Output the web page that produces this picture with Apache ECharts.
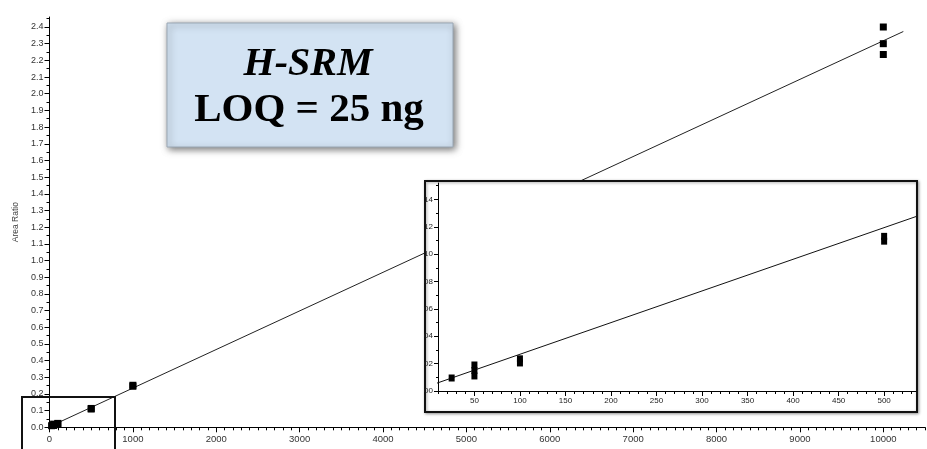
<!DOCTYPE html>
<html>
<head>
<meta charset="utf-8">
<script src="https://cdn.jsdelivr.net/npm/echarts@6/dist/echarts.min.js"></script>
<style>
  html, body { margin: 0; padding: 0; background: #fff; }
  #chart { width: 927px; height: 449px; }
</style>
</head>
<body>
<div id="chart"></div>
<script>
// Calibration points: amount (ng) and measured area ratio (replicates)
const amountNg = [25, 50, 50, 50, 100, 100, 500, 500, 1000, 1000, 10000, 10000, 10000];
const areaRatio = [0.0095, 0.011, 0.015, 0.019, 0.0205, 0.0235, 0.1095, 0.113, 0.246, 0.252, 2.235, 2.30, 2.40];

// Fitted calibration line (end points)
const fitX = [0, 10240];
const fitY = [0.0037, 2.373];

// Tick labels
const mainXTicks = [0, 1000, 2000, 3000, 4000, 5000, 6000, 7000, 8000, 9000, 10000];
const mainYTicks = [0.0, 0.1, 0.2, 0.3, 0.4, 0.5, 0.6, 0.7, 0.8, 0.9, 1.0, 1.1, 1.2,
                    1.3, 1.4, 1.5, 1.6, 1.7, 1.8, 1.9, 2.0, 2.1, 2.2, 2.3, 2.4];
const insetXTicks = [50, 100, 150, 200, 250, 300, 350, 400, 450, 500];
const insetYTicks = [0.00, 0.02, 0.04, 0.06, 0.08, 0.10, 0.12, 0.14];

const points = amountNg.map((x, i) => [x, areaRatio[i]]);
const fitLine = fitX.map((x, i) => [x, fitY[i]]);

// minor tick positions
function steps(from, to, step, digits) {
  const out = [];
  for (let v = from; v <= to + step / 2; v += step) out.push(+v.toFixed(digits));
  return out;
}
const mainXMinor = steps(0, 10500, 100, 0);
const mainYMinor = steps(0, 2.45, 0.05, 2);
const insetXMinor = steps(10, 530, 10, 0);
const insetYMinor = steps(0, 0.15, 0.01, 2);

const labelFont = 'Liberation Sans, Arial, sans-serif';
const insetFont = 'Liberation Sans Narrow, Liberation Sans, Arial, sans-serif';

const chart = echarts.init(document.getElementById('chart'), null, { renderer: 'canvas' });

const axisLine = { show: true, lineStyle: { color: '#000', width: 1 } };

chart.setOption({
  animation: false,
  backgroundColor: '#fff',
  grid: [
    { left: 49.5, top: 17, width: 875.5, height: 410.3 },
    { left: 438, top: 183, width: 478, height: 208 }
  ],
  xAxis: [
    {
      type: 'value', gridIndex: 0, min: 0, max: 10500, position: 'bottom',
      axisLine: axisLine,
      splitLine: { show: false },
      axisTick: { show: true, inside: false, length: 3, customValues: mainXMinor, lineStyle: { color: '#000' } },
      axisLabel: { customValues: mainXTicks, fontSize: 9.5, color: '#333', fontFamily: labelFont, margin: 7,
                   formatter: v => String(v) }
    },
    {
      type: 'value', gridIndex: 0, min: 0, max: 10500, position: 'bottom',
      axisLine: { show: false }, splitLine: { show: false },
      axisTick: { show: true, length: 5, customValues: mainXTicks, lineStyle: { color: '#000' } },
      axisLabel: { show: false }
    },
    {
      type: 'value', gridIndex: 1, min: 10, max: 535, position: 'bottom', z: 15,
      axisLine: axisLine, splitLine: { show: false },
      axisTick: { show: true, length: 3, customValues: insetXMinor, lineStyle: { color: '#000' } },
      axisLabel: { customValues: insetXTicks, fontSize: 8, color: '#222', fontFamily: insetFont, margin: 6,
                   formatter: v => String(v) }
    },
    {
      type: 'value', gridIndex: 1, min: 10, max: 535, position: 'bottom', z: 15,
      axisLine: { show: false }, splitLine: { show: false },
      axisTick: { show: true, length: 5, customValues: insetXTicks, lineStyle: { color: '#000' } },
      axisLabel: { show: false }
    }
  ],
  yAxis: [
    {
      type: 'value', gridIndex: 0, min: 0, max: 2.46, position: 'left',
      name: 'Area Ratio', nameLocation: 'middle', nameRotate: 90, nameGap: 29,
      nameTextStyle: { fontSize: 8.5, color: '#444', fontFamily: labelFont },
      axisLine: axisLine, splitLine: { show: false },
      axisTick: { show: true, length: 3, customValues: mainYMinor, lineStyle: { color: '#000' } },
      axisLabel: { customValues: mainYTicks, fontSize: 9, color: '#333', fontFamily: labelFont, margin: 6,
                   formatter: v => v.toFixed(1) }
    },
    {
      type: 'value', gridIndex: 0, min: 0, max: 2.46, position: 'left',
      axisLine: { show: false }, splitLine: { show: false },
      axisTick: { show: true, length: 5, customValues: mainYTicks, lineStyle: { color: '#000' } },
      axisLabel: { show: false }
    },
    {
      type: 'value', gridIndex: 1, min: 0, max: 0.152, position: 'left', z: 15,
      axisLine: axisLine, splitLine: { show: false },
      axisTick: { show: true, length: 2, customValues: insetYMinor, lineStyle: { color: '#000' } },
      axisLabel: { customValues: insetYTicks, fontSize: 8, color: '#222', fontFamily: insetFont, margin: 5,
                   formatter: v => String(Math.round(v * 100)).padStart(2, '0') }
    },
    {
      type: 'value', gridIndex: 1, min: 0, max: 0.152, position: 'left', z: 15,
      axisLine: { show: false }, splitLine: { show: false },
      axisTick: { show: true, length: 4, customValues: insetYTicks, lineStyle: { color: '#000' } },
      axisLabel: { show: false }
    }
  ],
  series: [
    {
      type: 'line', xAxisIndex: 0, yAxisIndex: 0, data: fitLine, showSymbol: false,
      lineStyle: { color: '#222', width: 1 }, z: 2, silent: true
    },
    {
      type: 'scatter', xAxisIndex: 0, yAxisIndex: 0, data: points,
      symbol: 'rect', symbolSize: [7, 7], itemStyle: { color: '#000', opacity: 1 }, z: 3
    },
    {
      type: 'line', xAxisIndex: 2, yAxisIndex: 2, data: fitLine, showSymbol: false, clip: true,
      lineStyle: { color: '#111', width: 1 }, z: 20, silent: true
    },
    {
      type: 'scatter', xAxisIndex: 2, yAxisIndex: 2, data: points.filter(p => p[0] <= 535), clip: true,
      symbol: 'rect', symbolSize: [6, 7], itemStyle: { color: '#000', opacity: 1 }, z: 21
    }
  ],
  graphic: [
    // inset frame
    {
      type: 'rect', z: 10,
      shape: { x: 425, y: 181, width: 492, height: 231 },
      style: { fill: '#fff', stroke: '#111', lineWidth: 2,
               shadowBlur: 3, shadowColor: 'rgba(0,0,0,0.35)', shadowOffsetX: 1, shadowOffsetY: 1 }
    },
    // marker of the zoomed low range
    {
      type: 'rect', z: 50,
      shape: { x: 22, y: 397, width: 93, height: 60 },
      style: { fill: 'none', stroke: '#111', lineWidth: 2 }
    },
    // annotation box
    {
      type: 'rect', z: 30,
      shape: { x: 167, y: 23, width: 286, height: 124 },
      style: { fill: '#d3e3f3', stroke: '#9aa7b4', lineWidth: 1,
               shadowBlur: 7, shadowColor: 'rgba(0,0,0,0.55)', shadowOffsetX: 2, shadowOffsetY: 2 }
    },
    {
      type: 'text', z: 31, x: 308, y: 85,
      style: { text: 'H-SRM', fill: '#000', font: 'italic bold 40px "Liberation Serif", "Times New Roman", serif',
               textAlign: 'center', textVerticalAlign: 'bottom' }
    },
    {
      type: 'text', z: 31, x: 309, y: 131,
      style: { text: 'LOQ = 25 ng', fill: '#000', font: 'bold 41px "Liberation Serif", "Times New Roman", serif',
               textAlign: 'center', textVerticalAlign: 'bottom' }
    }
  ]
});
</script>
</body>
</html>
